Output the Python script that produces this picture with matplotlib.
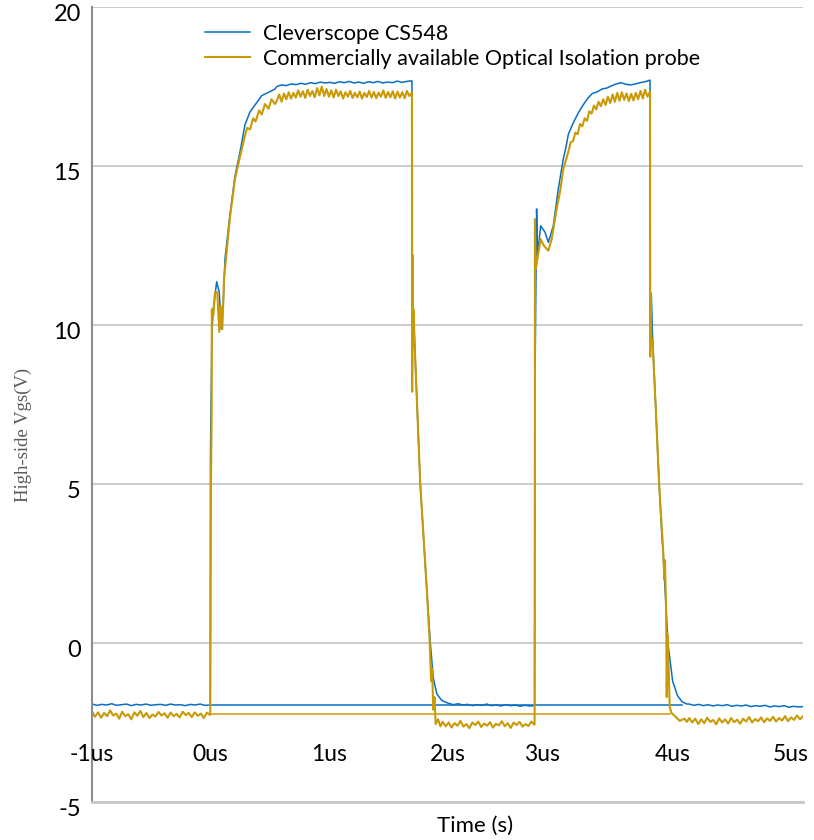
import numpy as np
import matplotlib
matplotlib.use("Agg")
import matplotlib.pyplot as plt
from matplotlib.transforms import ScaledTranslation

# colours of the two probes
BLUE = '#0A6FC2'
GOLD = '#C99A06'

# ---- Cleverscope CS548 (blue) -------------------------------------------
blue_pre = [-1.92, -1.96, -1.93, -1.95, -1.91, -1.96, -1.94, -1.92, -1.97, -1.93,
            -1.95, -1.92, -1.96, -1.94, -1.93, -1.96, -1.92, -1.95, -1.94, -1.97,
            -1.93, -1.95, -1.92, -1.96, -1.95]
blue_rise1_t = [-0.002, 0.0, 0.012, 0.024, 0.052, 0.074, 0.091, 0.108, 0.122, 0.165,
                0.207, 0.249, 0.291, 0.333, 0.432, 0.544]
blue_rise1_v = [-1.95, 6.0, 9.8, 10.5, 11.36, 11.03, 9.87, 10.7, 12.07, 13.5,
                14.69, 15.44, 16.3, 16.7, 17.21, 17.42]
blue_top1 = [17.50, 17.55, 17.53, 17.58, 17.56, 17.60, 17.57, 17.62, 17.59, 17.64,
             17.61, 17.63, 17.60, 17.65, 17.62, 17.66, 17.61, 17.64, 17.60, 17.65,
             17.62, 17.66, 17.61, 17.64, 17.62, 17.67, 17.63, 17.66, 17.68]
blue_fall1_t = [1.700, 1.702, 1.705, 1.72, 1.726, 1.77, 1.81, 1.83, 1.855, 1.88,
                1.91, 1.95, 1.99]
blue_fall1_v = [17.67, 8.0, 10.6, 9.7, 9.1, 5.0, 2.6, 1.4, 0.0, -1.1,
                -1.6, -1.8, -1.87]
blue_low1 = [-1.90, -1.94, -1.91, -1.95, -1.93, -1.97, -1.94, -1.96, -1.92, -1.97,
             -1.95, -1.98, -1.94, -1.97, -1.95, -1.99, -1.96, -1.98, -1.97]
blue_rise2_t = [2.735, 2.738, 2.752, 2.76, 2.786, 2.823, 2.851, 2.893, 2.935, 2.977, 3.0]
blue_rise2_v = [-1.97, 8.0, 13.65, 12.18, 13.12, 12.92, 12.6, 13.12, 14.28, 15.22, 15.6]
blue_top2 = [16.0, 16.35, 16.65, 16.9, 17.12, 17.28, 17.33, 17.42, 17.45, 17.52,
             17.58, 17.62, 17.57, 17.55, 17.58, 17.62, 17.65, 17.70]
blue_fall2_t = [3.709, 3.711, 3.72, 3.73, 3.757, 3.786, 3.81, 3.82, 3.825, 3.84,
                3.86, 3.90, 3.94, 3.98, 4.02]
blue_fall2_v = [17.70, 10.9, 11.0, 9.7, 7.4, 5.0, 3.3, 2.9, 2.4, 1.4,
                0.0, -1.2, -1.65, -1.85, -1.92]
blue_low2 = [-1.92, -1.96, -1.93, -1.97, -1.94, -1.98, -1.95, -1.97, -1.94, -1.99,
             -1.96, -1.98, -1.95, -2.00, -1.97, -1.99, -1.96, -2.01, -1.98, -2.00,
             -1.97, -2.02, -1.99, -2.01, -2.00]
blue_link_t = [0.0, 3.98]
blue_link_v = [-1.96, -1.96]

# ---- Optical isolation probe (gold) -------------------------------------
gold_pre = [-2.15, -2.32, -2.18, -2.35, -2.20, -2.30, -2.12, -2.28, -2.22, -2.38,
            -2.16, -2.30, -2.24, -2.40, -2.18, -2.29, -2.14, -2.33, -2.20, -2.36,
            -2.25, -2.31, -2.17, -2.28, -2.21, -2.35, -2.19, -2.30, -2.23, -2.34,
            -2.16, -2.27, -2.20, -2.33, -2.18, -2.29, -2.22, -2.36, -2.19, -2.26]
gold_rise1_t = [-0.002, 0.004, 0.010, 0.011, 0.024, 0.038, 0.057, 0.074, 0.086, 0.100,
                0.114, 0.165, 0.207, 0.249, 0.291, 0.31, 0.333, 0.36, 0.38, 0.41,
                0.432, 0.46, 0.49, 0.515, 0.544]
gold_rise1_v = [-2.25, 5.0, 7.4, 10.5, 10.3, 11.03, 11.03, 9.78, 10.6, 9.87,
                11.45, 13.4, 14.6, 15.3, 15.95, 16.2, 16.15, 16.5, 16.4, 16.75,
                16.62, 16.95, 16.8, 17.1, 16.95]
gold_top1 = [17.05, 17.25, 17.02, 17.28, 17.10, 17.32, 17.12, 17.30, 17.15, 17.38,
             17.18, 17.35, 17.14, 17.40, 17.20, 17.36, 17.16, 17.45, 17.22, 17.50,
             17.20, 17.42, 17.18, 17.38, 17.15, 17.40, 17.20, 17.35, 17.12, 17.32,
             17.18, 17.36, 17.14, 17.30, 17.16, 17.34, 17.12, 17.30, 17.17, 17.36,
             17.15, 17.33, 17.13, 17.31, 17.18, 17.38, 17.14, 17.33, 17.16, 17.35,
             17.12, 17.34, 17.15, 17.32, 17.13, 17.36, 17.20, 17.30]
gold_fall1_t = [1.700, 1.702, 1.704, 1.707, 1.712, 1.726, 1.77, 1.81, 1.83, 1.85,
                1.862, 1.87, 1.88, 1.89, 1.90, 1.92, 1.94]
gold_fall1_v = [17.28, 7.9, 12.2, 9.3, 10.5, 9.1, 5.0, 2.6, 1.4, 0.0,
                -1.2, -0.8, -2.1, -1.7, -2.55, -2.4, -2.62]
gold_low1 = [-2.48, -2.62, -2.50, -2.66, -2.52, -2.60, -2.45, -2.63, -2.55, -2.68,
             -2.50, -2.58, -2.47, -2.64, -2.53, -2.60, -2.49, -2.66, -2.54, -2.59,
             -2.46, -2.62, -2.52, -2.67, -2.50, -2.58, -2.48, -2.63, -2.55, -2.61,
             -2.47, -2.57]
gold_rise2_t = [2.735, 2.737, 2.738, 2.745, 2.786, 2.814, 2.851, 2.879, 2.921, 2.95,
                2.977, 3.0]
gold_rise2_v = [-2.55, 5.0, 13.33, 11.76, 12.7, 12.49, 12.34, 12.7, 13.65, 14.2,
                14.9, 15.2]
gold_top2 = [15.45, 15.75, 15.78, 16.05, 16.0, 16.32, 16.25, 16.5, 16.42, 16.72,
             16.65, 16.9, 16.78, 17.02, 16.88, 17.1, 16.92, 17.18, 16.98, 17.25,
             17.02, 17.3, 17.05, 17.32, 17.08, 17.28, 17.04, 17.27, 17.06, 17.3,
             17.1, 17.36, 17.12, 17.4, 17.18, 17.32]
gold_fall2_t = [3.709, 3.711, 3.714, 3.72, 3.73, 3.757, 3.786, 3.82, 3.83, 3.835,
                3.845, 3.85, 3.855, 3.865, 3.875, 3.89, 3.92, 3.96, 4.0, 4.02]
gold_fall2_v = [17.32, 9.0, 11.0, 9.6, 9.5, 7.4, 5.0, 2.9, 2.0, 2.6,
                1.0, -1.7, 0.3, -0.6, -2.0, -2.2, -2.3, -2.45, -2.38, -2.48]
gold_low2 = [-2.36, -2.50, -2.38, -2.55, -2.40, -2.52, -2.35, -2.48, -2.42, -2.56,
             -2.37, -2.50, -2.40, -2.53, -2.36, -2.49, -2.41, -2.54, -2.38, -2.47,
             -2.33, -2.50, -2.39, -2.46, -2.34, -2.49, -2.37, -2.45, -2.32, -2.47,
             -2.36, -2.44, -2.30, -2.46, -2.34, -2.42, -2.28, -2.40, -2.30]
gold_link_t = [0.0, 3.88]
gold_link_v = [-2.22, -2.22]

# x annotations drawn inside the plot, as in the original
time_labels = ['-1us', '0us', '1us', '2us', '3us', '4us', '5us']
time_label_pos = [-1.0, 0.0, 1.0, 2.0, 2.8, 3.9, 4.9]


def trace(pre, rise1_t, rise1_v, top1, fall1_t, fall1_v, low1,
          rise2_t, rise2_v, top2, fall2_t, fall2_v, low2):
    # flat, sampled parts sit on an even time grid between the edges
    t = np.concatenate([
        np.linspace(-1.0, -0.005, len(pre)), rise1_t,
        np.linspace(0.56, 1.698, len(top1)), fall1_t,
        np.linspace(fall1_t[-1] + 0.02, 2.733, len(low1)), rise2_t,
        np.linspace(3.02, 3.707, len(top2)), fall2_t,
        np.linspace(4.04, 5.0, len(low2))])
    v = np.concatenate([pre, rise1_v, top1, fall1_v, low1,
                        rise2_v, top2, fall2_v, low2])
    return t, v


blue_t, blue_v = trace(blue_pre, blue_rise1_t, blue_rise1_v, blue_top1,
                       blue_fall1_t, blue_fall1_v, blue_low1, blue_rise2_t,
                       blue_rise2_v, blue_top2, blue_fall2_t, blue_fall2_v, blue_low2)
gold_t, gold_v = trace(gold_pre, gold_rise1_t, gold_rise1_v, gold_top1,
                       gold_fall1_t, gold_fall1_v, gold_low1, gold_rise2_t,
                       gold_rise2_v, gold_top2, gold_fall2_t, gold_fall2_v, gold_low2)

plt.rcParams['font.family'] = ['Lato', 'DejaVu Sans']
plt.rcParams['axes.unicode_minus'] = False

fig = plt.figure(figsize=(8.14, 8.40), dpi=100)
ax = fig.add_axes([92 / 814, 38 / 840, 711 / 814, 795 / 840])

ax.plot(blue_t, blue_v, color=BLUE, lw=1.1, label='Cleverscope CS548')
ax.plot(blue_link_t, blue_link_v, color=BLUE, lw=1.1)
ax.plot(gold_t, gold_v, color=GOLD, lw=1.5,
        label='Commercially available Optical Isolation probe')
ax.plot(gold_link_t, gold_link_v, color=GOLD, lw=1.1)

ax.set_xlim(-1, 5)
ax.set_ylim(-5, 20)
ax.set_xticks([])
ax.set_yticks([-5, 0, 5, 10, 15, 20])
ax.tick_params(axis='y', length=0, pad=8, labelsize=17)
# the value labels sit a few pixels under their grid lines
for lbl in ax.get_yticklabels():
    lbl.set_transform(lbl.get_transform() + ScaledTranslation(0, -4 / 72, fig.dpi_scale_trans))
ax.grid(axis='y', color='#c8c8c8', lw=1.3)
ax.set_axisbelow(True)

for s in ['top', 'right']:
    ax.spines[s].set_visible(False)
ax.spines['left'].set_color('#8c8c8c')
ax.spines['left'].set_linewidth(1.5)
ax.spines['bottom'].set_color('#c8c8c8')
ax.spines['bottom'].set_linewidth(2)

for lab, x in zip(time_labels, time_label_pos):
    ax.text(x, -3.5, lab, ha='center', va='center', fontsize=16.5)

ax.set_xlabel('Time (s)', fontsize=16)
ax.xaxis.set_label_coords(0.539, -0.017)
ax.set_ylabel('High-side Vgs(V)', fontsize=13.5, color='#595959',
              family='Liberation Serif')
ax.yaxis.set_label_coords(-0.085, 0.462)

ax.legend(loc='upper left', bbox_to_anchor=(0.159, 0.979), frameon=False,
          fontsize=15.5, handlelength=2.1, handletextpad=0.6,
          labelspacing=0.24, borderpad=0, borderaxespad=0)

fig.savefig('out.png', dpi=100)
